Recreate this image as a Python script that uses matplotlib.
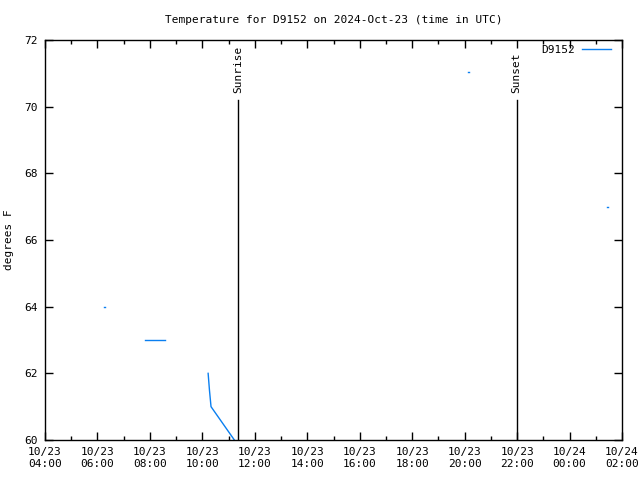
import matplotlib
matplotlib.use("Agg")
import matplotlib.pyplot as plt
from matplotlib.ticker import MultipleLocator

plt.rcParams['font.family'] = ['DejaVu Sans Mono']
plt.rcParams['font.size'] = 8

# hours since 10/23 00:00 UTC
seg_times = [[6.24, 6.28], [7.82, 8.57], [10.22, 10.27, 10.33, 11.22], [20.11, 20.15], [25.42, 25.48]]
seg_temps = [[64.0, 64.0], [63.0, 63.0], [62.0, 61.5, 61.0, 60.0], [71.05, 71.05], [67.0, 67.0]]
sunrise = 11.37
sunset = 21.98
tick_hours = [4, 6, 8, 10, 12, 14, 16, 18, 20, 22, 24, 26]
tick_labels = ["10/23\n04:00", "10/23\n06:00", "10/23\n08:00", "10/23\n10:00", "10/23\n12:00",
               "10/23\n14:00", "10/23\n16:00", "10/23\n18:00", "10/23\n20:00", "10/23\n22:00",
               "10/24\n00:00", "10/24\n02:00"]

fig = plt.figure(figsize=(6.4, 4.8), dpi=100)
ax = fig.add_axes([45 / 640, 1 - 440 / 480, 577 / 640, 400 / 480])

color = "#0a7ff0"
for i in range(len(seg_times)):
    ax.plot(seg_times[i], seg_temps[i], color=color, lw=1,
            label="D9152" if i == 0 else None)

# sunrise / sunset markers
for t, name in [(sunrise, "Sunrise"), (sunset, "Sunset")]:
    ax.plot([t, t], [60, 70.2], color="black", lw=1)
    ax.text(t, 70.42, name, rotation=90, ha="center", va="bottom", fontsize=8)

ax.set_xlim(4, 26)
ax.set_ylim(60, 72)
ax.set_xticks(tick_hours)
ax.set_xticklabels(tick_labels)
ax.xaxis.set_minor_locator(MultipleLocator(1))
ax.set_yticks([60, 62, 64, 66, 68, 70, 72])
ax.tick_params(which="both", direction="in", top=True, right=True, width=1)
ax.tick_params(which="major", length=6, pad=5)
ax.tick_params(which="minor", length=3)
for s in ax.spines.values():
    s.set_linewidth(1)

ax.set_ylabel("degrees F")
ax.yaxis.set_label_coords(-31 / 577, 0.5)
ax.set_title("Temperature for D9152 on 2024-Oct-23 (time in UTC)", pad=12, fontsize=8)

leg = ax.legend(loc="upper right", frameon=False, handlelength=2.6, markerfirst=False,
                borderaxespad=0.25, handletextpad=0.6, borderpad=0.2)
leg.set_bbox_to_anchor((1 - 6 / 577, 1.0), transform=ax.transAxes)

fig.savefig("out.png", dpi=100)
